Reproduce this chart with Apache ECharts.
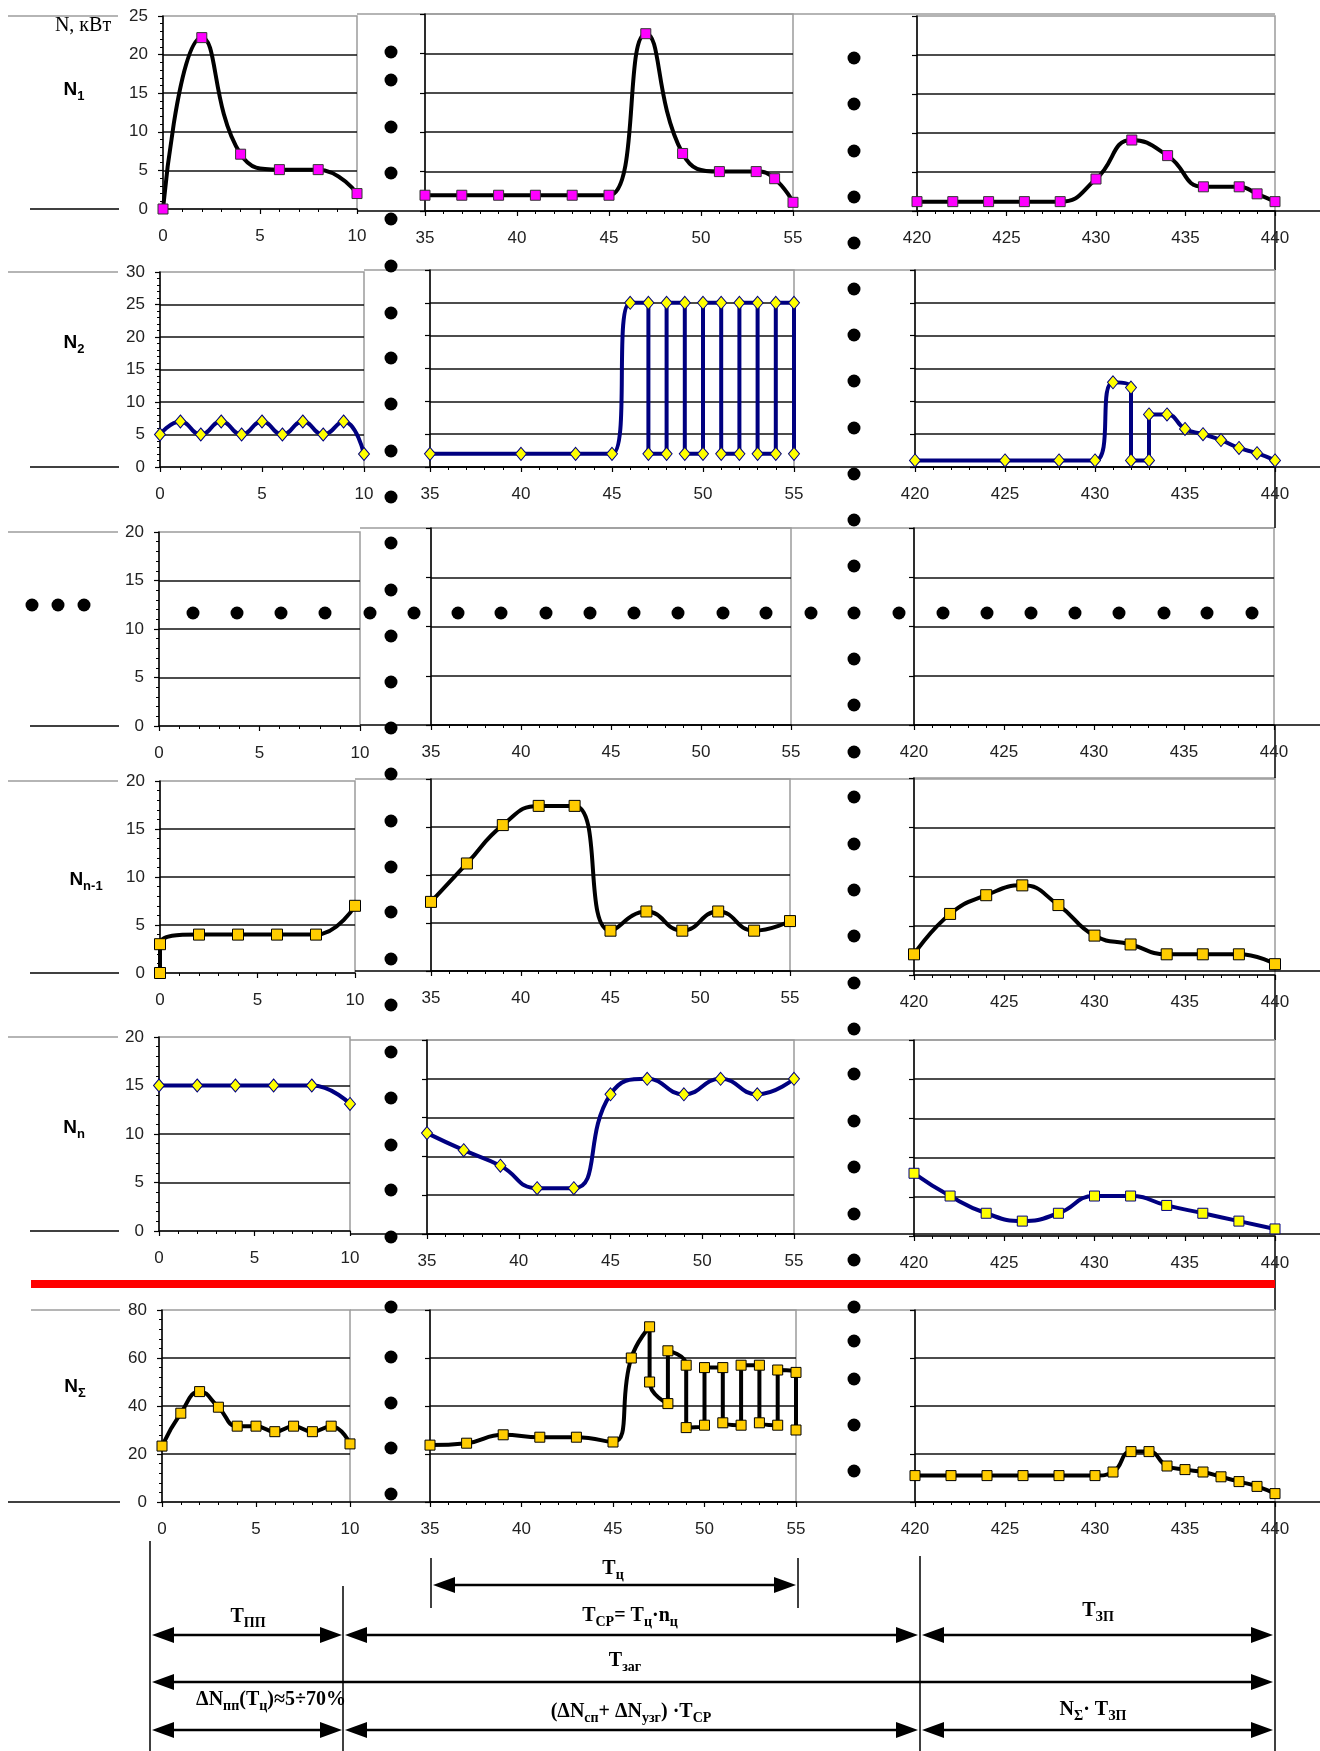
<!DOCTYPE html>
<html><head><meta charset="utf-8">
<script src="https://cdn.jsdelivr.net/npm/echarts/dist/echarts.min.js"></script>
<style>html,body{margin:0;padding:0;background:#fff}#c{width:1320px;height:1751px}</style>
</head><body><div id="c"></div>
<script>
// ---------- DATA ----------
const xTicksLeft = [0, 10];
const xTicksMid = [35, 55];
const xTicksRight = [420, 440];

const N1_left  = [[0,0],[2,22.2],[4,7.1],[6,5.1],[8,5.1],[10,2.0]];
const N1_mid   = [[35,2.0],[37,2.0],[39,2.0],[41,2.0],[43,2.0],[45,2.0],[47,22.5],[49,7.3],[51,5.0],[53,5.0],[54,4.1],[55,1.1]];
const N1_right = [[420,1.2],[422,1.2],[424,1.2],[426,1.2],[428,1.2],[430,4.1],[432,9.1],[434,7.1],[436,3.1],[438,3.1],[439,2.2],[440,1.2]];

const N2_left  = [[0,5],[1,7],[2,5],[3,7],[4,5],[5,7],[6,5],[7,7],[8,5],[9,7],[10,2]];
const N2_mid   = [[35,2],[40,2],[43,2],[45,2],[46,25],[47,25],[47,2],[48,2],[48,25],[49,25],[49,2],[50,2],[50,25],[51,25],[51,2],[52,2],[52,25],[53,25],[53,2],[54,2],[54,25],[55,25],[55,2]];
const N2_right = [[420,1],[425,1],[428,1],[430,1],[431,12.9],[432,12.1],[432,1],[433,1],[433,8],[434,8],[435,5.8],[436,5],[437,4.1],[438,2.9],[439,2.1],[440,1]];

const Nn1_left  = [[0,0],[0,3],[2,4],[4,4],[6,4],[8,4],[10,7]];
const Nn1_mid   = [[35,7.2],[37,11.2],[39,15.2],[41,17.2],[43,17.2],[45,4.2],[47,6.2],[49,4.2],[51,6.2],[53,4.2],[55,5.2]];
const Nn1_right = [[420,2.1],[422,6.2],[424,8.1],[426,9.1],[428,7.1],[430,4.0],[432,3.1],[434,2.1],[436,2.1],[438,2.1],[440,1.1]];

const Nn_left  = [[0,15],[2,15],[4,15],[6,15],[8,15],[10,13.1]];
const Nn_mid   = [[35,13],[37,10.8],[39,8.8],[41,5.9],[43,5.9],[45,18],[47,20],[49,18],[51,20],[53,18],[55,20]];
const Nn_right = [[420,8],[422,5.1],[424,2.9],[426,1.9],[428,2.9],[430,5.1],[432,5.1],[434,3.9],[436,2.9],[438,1.9],[440,0.9]];

const NS_left  = [[0,23.3],[1,37],[2,46],[3,39.5],[4,31.6],[5,31.6],[6,29.3],[7,31.6],[8,29.3],[9,31.6],[10,24.2]];
const NS_mid   = [[35,23.7],[37,24.5],[39,28],[41,27],[43,27],[45,25],[46,60],[47,73],[47,50],[48,41],[48,63],[49,57],[49,31],[50,32],[50,56],[51,56],[51,33],[52,32],[52,57],[53,57],[53,33],[54,32],[54,55],[55,54],[55,30]];
const NS_right = [[420,11],[422,11],[424,11],[426,11],[428,11],[430,11],[431,12.5],[432,21],[433,21],[434,15],[435,13.5],[436,12.5],[437,10.5],[438,8.5],[439,6.5],[440,3.5]];

const yMaxByRow = [[25,25,25],[30,30,30],[20,20,20],[20,20,20],[20,25,25],[80,80,80]];
const yStepByRow = [5,5,5,5,5,20];

// ---------- LAYOUT (pixels) ----------
const layout = [
 [[163,357,16,209],[425,793,14,211],[917,1275,16,211]],
 [[160,364,272,467],[430,794,270,467],[915,1275,270,467]],
 [[159,360,532,726],[431,791,528,725],[914,1274,528,725]],
 [[160,355,781,973],[431,790,779,971],[914,1275,778,975]],
 [[159,350,1037,1231],[427,794,1040,1234],[914,1275,1040,1236]],
 [[162,350,1310,1502],[430,796,1310,1502],[915,1275,1310,1502]]
];
const xRanges = [xTicksLeft, xTicksMid, xTicksRight];

const STY = {
  N1:  {line:'#000', fill:'#FF00FF', border:'#333', sym:'rect', size:10},
  N2:  {line:'#000080', fill:'#FFFF00', border:'#000080', sym:'diamond', size:[11,13]},
  Nn1: {line:'#000', fill:'#FFCC00', border:'#000', sym:'rect', size:11},
  NnD: {line:'#000080', fill:'#FFFF00', border:'#000080', sym:'diamond', size:[11,13]},
  NnS: {line:'#000080', fill:'#FFFF00', border:'#000080', sym:'rect', size:10},
  NS:  {line:'#000', fill:'#FFCC00', border:'#000', sym:'rect', size:10}
};
const seriesSpec = [
  [[N1_left,'N1'],[N1_mid,'N1'],[N1_right,'N1']],
  [[N2_left,'N2'],[N2_mid,'N2'],[N2_right,'N2']],
  [],
  [[Nn1_left,'Nn1'],[Nn1_mid,'Nn1'],[Nn1_right,'Nn1']],
  [[Nn_left,'NnD'],[Nn_mid,'NnD'],[Nn_right,'NnS']],
  [[NS_left,'NS'],[NS_mid,'NS'],[NS_right,'NS']]
];

const grids=[], xAxes=[], yAxes=[], series=[];
layout.forEach((row,r)=>row.forEach((g,c)=>{
  const i = r*3+c;
  grids.push({left:g[0], top:g[2], width:g[1]-g[0], height:g[3]-g[2], show:true,
    borderColor:'#9c9c9c', borderWidth:1.5, backgroundColor:'transparent'});
  xAxes.push({type:'value', gridIndex:i, min:xRanges[c][0], max:xRanges[c][1], interval:5,
    axisLine:{show:true, onZero:false, lineStyle:{color:'#000', width:1.5}},
    axisTick:{show:true, length:5, lineStyle:{color:'#000', width:1.2}},
    minorTick:{show:true, splitNumber:5, length:3, lineStyle:{color:'#000', width:1}},
    splitLine:{show:false},
    axisLabel:{fontSize:17, color:'#222', margin:19, fontFamily:'Liberation Sans'}});
  yAxes.push({type:'value', gridIndex:i, min:0, max:yMaxByRow[r][c], interval:yStepByRow[r],
    axisLine:{show:true, onZero:false, lineStyle:{color:'#000', width:1.5}},
    axisTick:{show:true, length:5, lineStyle:{color:'#000', width:1.2}},
    minorTick:{show:c===0, splitNumber:5, length:3, lineStyle:{color:'#000', width:1}},
    splitLine:{show:true, showMinLine:false, showMaxLine:false, lineStyle:{color:'#111', width:1.5}},
    axisLabel:{show:c===0, fontSize:17, color:'#222', margin:15, fontFamily:'Liberation Sans'}});
}));
seriesSpec.forEach((row,r)=>row.forEach((s,c)=>{
  const i = r*3+c, st = STY[s[1]];
  series.push({type:'line', xAxisIndex:i, yAxisIndex:i, data:s[0], smooth:0.5, clip:false,
    symbol:st.sym, symbolSize:st.size, showSymbol:true,
    lineStyle:{color:st.line, width:4},
    itemStyle:{color:st.fill, borderColor:st.border, borderWidth:1},
    z:3, silent:true});
}));

// ---------- DECORATION ----------
const G = [];
const L = (x1,y1,x2,y2,col,w,z)=>G.push({type:'line', z:z||0, shape:{x1,y1,x2,y2}, style:{stroke:col, lineWidth:w||1.5}});
layout.forEach((row,r)=>{
  const Lp=row[0], Mp=row[1], Rp=row[2];
  if (r<5){ L(8,Lp[2],118,Lp[2],'#9c9c9c',1.5); L(30,Lp[3],119,Lp[3],'#000',1.5); }
  else { L(31,Lp[2],120,Lp[2],'#9c9c9c',1.5); L(8,Lp[3],120,Lp[3],'#000',1.5); }
  L(Lp[1],Mp[2],Rp[1],Mp[2],'#9c9c9c',1.5);
  L(Lp[1],Mp[3],1320,Mp[3],'#000',1.5);
  const nextTop = r<5 ? layout[r+1][2][2] : 1751;
  L(1275,Rp[3],1275,nextTop,'#000',1.5);
});
// red separator
G.push({type:'rect', z:5, shape:{x:31,y:1280,width:1244,height:8}, style:{fill:'#FF0000'}});

// dots
const dotColA = [52,80,127,173,219,266,313,358,404,451,497,543,590,636,682,728,774,821,867,912,959,1005,1052,1098,1145,1190,1237,1307,1357,1403,1448,1494];
const dotColB = [58,104,151,197,243,289,335,381,428,474,520,566,613,659,705,752,797,844,890,936,983,1029,1074,1121,1167,1214,1260,1307,1341,1379,1425,1471];
const dotRowX = [193,237,281,325,370,414,458,501,546,590,634,678,723,766,811,899,943,987,1031,1075,1119,1164,1207,1252];
const dotLeftX = [32,58,84];
const D = (cx,cy)=>G.push({type:'circle', z:10, shape:{cx,cy,r:6.5}, style:{fill:'#000'}});
dotColA.forEach(y=>D(391,y));
dotColB.forEach(y=>D(854,y));
dotRowX.forEach(x=>D(x,613));
dotLeftX.forEach(x=>D(x,605));

// texts
function T(x,y,parts,opt){
  opt = opt||{};
  const fam = opt.family||'Liberation Serif', fs = opt.fs||20, ss = opt.ss||14;
  let s='';
  parts.forEach(p=>{ s += '{m|'+p[0]+'}'; if(p[1]) s += '{s|'+p[1]+'}'; });
  G.push({type:'text', z:10, x:x, y:y, style:{text:s, align:'center', verticalAlign:'middle',
    textAlign:'center', textVerticalAlign:'middle', fill:'#000',
    rich:{m:{fontSize:fs, fontWeight:opt.w||'bold', fontFamily:fam, lineHeight:26, verticalAlign:'middle', fill:'#000'},
          s:{fontSize:ss, fontWeight:opt.w||'bold', fontFamily:fam, lineHeight:ss, verticalAlign:'bottom', fill:'#000'}}}});
}
G.push({type:'text', z:10, x:83, y:26, style:{text:'N, кВт', align:'center', verticalAlign:'middle', textAlign:'center', textVerticalAlign:'middle', font:'20px "Liberation Serif"', fill:'#000'}});
const sans = {family:'Liberation Sans', fs:19, ss:13};
T(74,90,[['N','1']],sans);
T(74,343,[['N','2']],sans);
T(86,880,[['N','n-1']],sans);
T(74,1128,[['N','n']],sans);
T(75,1387,[['N','Σ']],sans);

// bottom annotation
function arrow(xa,xb,y){
  const AL=22, AH=8;
  L(xa+AL-2,y,xb-AL+2,y,'#000',2.5,10);
  G.push({type:'polygon', z:10, shape:{points:[[xa,y],[xa+AL,y-AH],[xa+AL,y+AH]]}, style:{fill:'#000'}});
  G.push({type:'polygon', z:10, shape:{points:[[xb,y],[xb-AL,y-AH],[xb-AL,y+AH]]}, style:{fill:'#000'}});
}
L(150,1541,150,1751,'#000',1.5,10);
L(343,1586,343,1751,'#000',1.5,10);
L(920,1556,920,1751,'#000',1.5,10);
L(431,1558,431,1608,'#000',1.5,10);
L(798,1558,798,1608,'#000',1.5,10);
arrow(433,796,1585);
arrow(152,342,1635); arrow(345,918,1635); arrow(922,1273,1635);
arrow(152,1273,1682);
arrow(152,342,1730); arrow(345,918,1730); arrow(922,1273,1730);
T(613,1569,[['T','ц']]);
T(248,1617,[['T','ПП']]);
T(630,1616,[['T','СР'],['= T','ц'],['·n','ц']]);
T(1098,1611,[['T','ЗП']]);
T(625,1661,[['T','заг']]);
T(271,1700,[['ΔN','пп'],['(T','ц'],[')≈5÷70%']]);
T(631,1712,[['(ΔN','сп'],['+ ΔN','узг'],[') ·T','СР']]);
T(1093,1710,[['N','Σ'],['· T','ЗП']]);

const chart = echarts.init(document.getElementById('c'), null, {renderer:'canvas'});
chart.setOption({animation:false, backgroundColor:'#fff', grid:grids, xAxis:xAxes, yAxis:yAxes, series:series, graphic:{elements:G}});
</script></body></html>
